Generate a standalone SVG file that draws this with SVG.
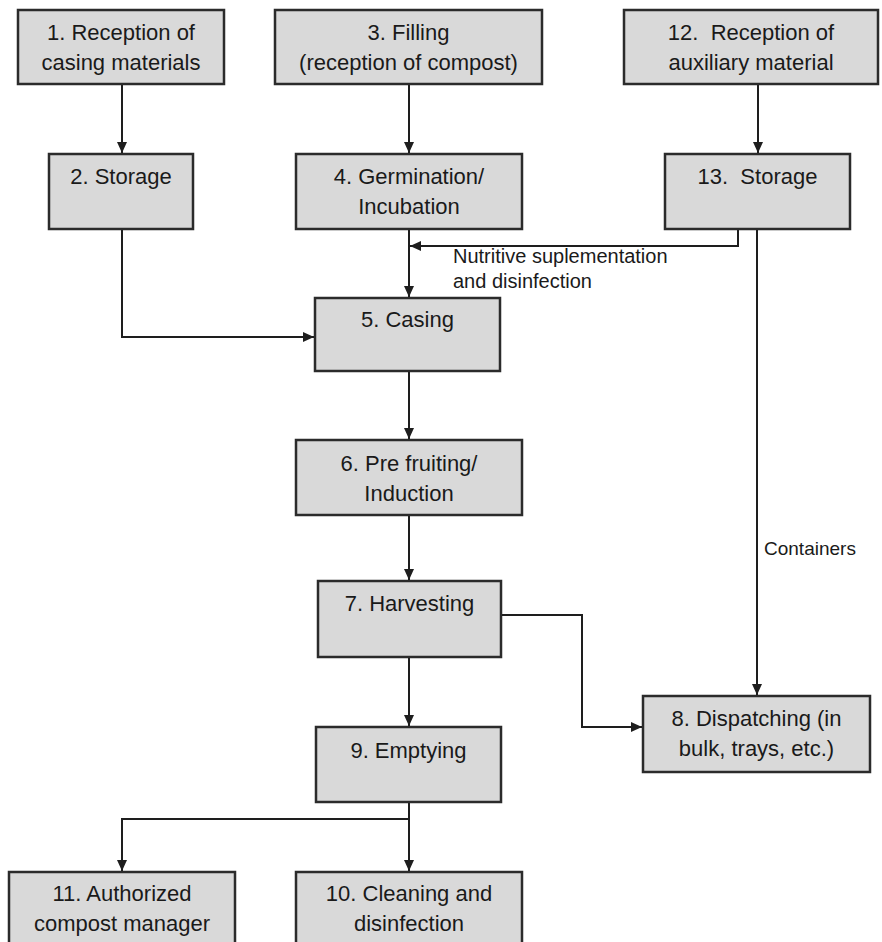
<svg xmlns="http://www.w3.org/2000/svg" width="882" height="942" viewBox="0 0 882 942">
<style>
.box{fill:#d9d9d9;stroke:#2b2b2b;stroke-width:2.5}
.t{font-family:"Liberation Sans",Arial,sans-serif;font-size:22px;fill:#1a1a1a;text-anchor:middle}
.lbl{font-family:"Liberation Sans",Arial,sans-serif;font-size:19px;fill:#1a1a1a}
.c{fill:none;stroke:#1e1e1e;stroke-width:2}
</style>
<defs>
<marker id="ah" markerUnits="userSpaceOnUse" markerWidth="12" markerHeight="10" refX="11" refY="5" orient="auto">
<path d="M0,0 L11,5 L0,10 Z" fill="#1e1e1e"/>
</marker>
</defs>
<rect width="882" height="942" fill="#ffffff"/>
<g id="connectors">
<path class="c" d="M122 84 V153" marker-end="url(#ah)"/>
<path class="c" d="M409 84 V153" marker-end="url(#ah)"/>
<path class="c" d="M758 84 V153" marker-end="url(#ah)"/>
<path class="c" d="M122 229 V337 H314" marker-end="url(#ah)"/>
<path class="c" d="M409 229 V297" marker-end="url(#ah)"/>
<path class="c" d="M738 229 V246 H410" marker-end="url(#ah)"/>
<path class="c" d="M757 229 V695" marker-end="url(#ah)"/>
<path class="c" d="M409 371 V439" marker-end="url(#ah)"/>
<path class="c" d="M409 515 V580" marker-end="url(#ah)"/>
<path class="c" d="M501 615 H582 V727 H642" marker-end="url(#ah)"/>
<path class="c" d="M409 657 V726" marker-end="url(#ah)"/>
<path class="c" d="M409 802 V871" marker-end="url(#ah)"/>
<path class="c" d="M409 819 H122 V871" marker-end="url(#ah)"/>
<text class="lbl" x="453" y="263" style="font-size:20px">Nutritive suplementation</text>
<text class="lbl" x="453" y="288" style="font-size:20px">and disinfection</text>
<text class="lbl" x="764" y="555">Containers</text>
</g>
<g id="n1"><rect class="box" x="18" y="10" width="206" height="74"/><text class="t" x="121" y="40">1. Reception of</text><text class="t" x="121" y="70">casing materials</text></g>
<g id="n3"><rect class="box" x="275" y="10" width="267" height="74"/><text class="t" x="408.5" y="40">3. Filling</text><text class="t" x="408.5" y="70">(reception of compost)</text></g>
<g id="n12"><rect class="box" x="624" y="10" width="254" height="74"/><text class="t" x="751" y="40" xml:space="preserve">12.  Reception of</text><text class="t" x="751" y="70">auxiliary material</text></g>
<g id="n2"><rect class="box" x="49" y="154" width="144" height="75"/><text class="t" x="121" y="184">2. Storage</text></g>
<g id="n4"><rect class="box" x="296" y="154" width="226" height="75"/><text class="t" x="409" y="184">4. Germination/</text><text class="t" x="409" y="214">Incubation</text></g>
<g id="n13"><rect class="box" x="665" y="154" width="185" height="75"/><text class="t" x="757.5" y="184" xml:space="preserve">13.  Storage</text></g>
<g id="n5"><rect class="box" x="315" y="298" width="185" height="73"/><text class="t" x="407.5" y="327">5. Casing</text></g>
<g id="n6"><rect class="box" x="296" y="440" width="226" height="75"/><text class="t" x="409" y="471">6. Pre fruiting/</text><text class="t" x="409" y="501">Induction</text></g>
<g id="n7"><rect class="box" x="318" y="581" width="183" height="76"/><text class="t" x="409.5" y="611">7. Harvesting</text></g>
<g id="n8"><rect class="box" x="643" y="696" width="227" height="76"/><text class="t" x="756.5" y="726">8. Dispatching (in</text><text class="t" x="756.5" y="756">bulk, trays, etc.)</text></g>
<g id="n9"><rect class="box" x="316" y="727" width="185" height="75"/><text class="t" x="408.5" y="758">9. Emptying</text></g>
<g id="n10"><rect class="box" x="296" y="872" width="226" height="80"/><text class="t" x="409" y="901">10. Cleaning and</text><text class="t" x="409" y="931">disinfection</text></g>
<g id="n11"><rect class="box" x="9" y="872" width="226" height="80"/><text class="t" x="122" y="901">11. Authorized</text><text class="t" x="122" y="931">compost manager</text></g>
</svg>
